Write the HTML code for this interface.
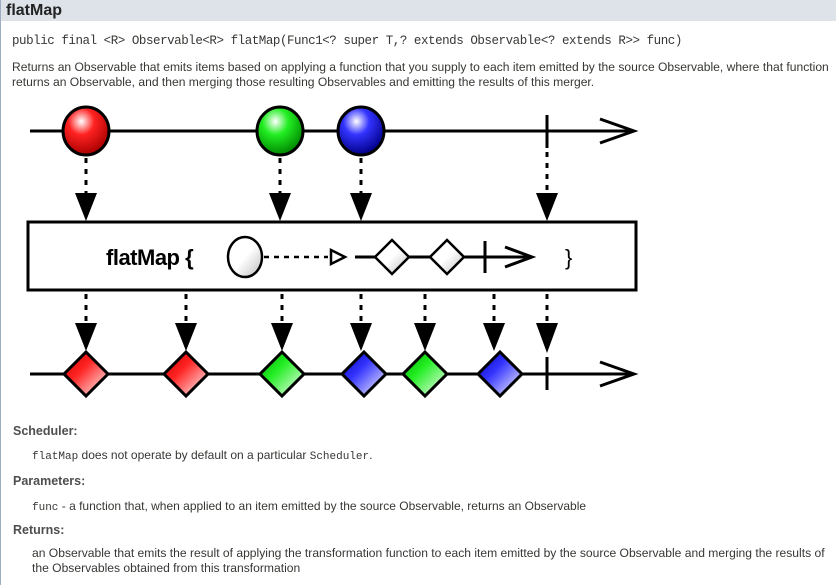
<!DOCTYPE html>
<html><head><meta charset="utf-8"><style>
body{margin:0;width:836px;height:585px;background:#fff;position:relative;overflow:hidden;font-family:"Liberation Sans",Arial,sans-serif;color:#353833;}
.hdr{position:absolute;left:0;top:0;width:836px;height:21px;background:#dee3e9;border-left:1px solid #9eadc0;}
.hdr b{position:absolute;left:5px;top:0px;font-size:16px;line-height:21px;color:#222;}
.lb{position:absolute;left:0;top:21px;width:1px;height:564px;background:#9eadc0;}
.t{position:absolute;white-space:nowrap;font-size:12px;}
.m{font-family:"Liberation Mono",monospace;}
.h{font-weight:bold;font-size:12.5px;color:#4e4e4e;}
.d{font-size:12.1px;}
</style></head><body>
<div class="hdr"><b>flatMap</b></div><div class="lb"></div>
<div class="t m" style="left:12px;top:34px;font-size:12.5px;letter-spacing:-0.45px">public final &lt;R&gt; Observable&lt;R&gt; flatMap(Func1&lt;? super T,? extends Observable&lt;? extends R&gt;&gt; func)</div>
<div class="t d" style="left:12px;top:60px">Returns an Observable that emits items based on applying a function that you supply to each item emitted by the source Observable, where that function</div>
<div class="t d" style="left:12px;top:75px">returns an Observable, and then merging those resulting Observables and emitting the results of this merger.</div>
<svg style="position:absolute;left:0;top:0" width="836" height="400">
<defs>
<radialGradient id="r" cx="0.4" cy="0.3" r="0.7"><stop offset="0" stop-color="#fff"/><stop offset="0.4" stop-color="#f22"/><stop offset="1" stop-color="#a00"/></radialGradient>
<radialGradient id="g" cx="0.4" cy="0.3" r="0.7"><stop offset="0" stop-color="#fff"/><stop offset="0.4" stop-color="#2e2"/><stop offset="1" stop-color="#080"/></radialGradient>
<radialGradient id="b" cx="0.4" cy="0.3" r="0.7"><stop offset="0" stop-color="#fff"/><stop offset="0.4" stop-color="#33f"/><stop offset="1" stop-color="#008"/></radialGradient>
<linearGradient id="w" x1="0" y1="0" x2="1" y2="1"><stop offset="0" stop-color="#fff"/><stop offset="0.5" stop-color="#fff"/><stop offset="1" stop-color="#bbb"/></linearGradient>
<linearGradient id="rd" x1="1" y1="1" x2="0" y2="0"><stop offset="0" stop-color="#fff"/><stop offset="0.6" stop-color="#f22"/><stop offset="1" stop-color="#c00"/></linearGradient>
<linearGradient id="gd" x1="1" y1="1" x2="0" y2="0"><stop offset="0" stop-color="#fff"/><stop offset="0.6" stop-color="#2e2"/><stop offset="1" stop-color="#0a0"/></linearGradient>
<linearGradient id="bd" x1="1" y1="1" x2="0" y2="0"><stop offset="0" stop-color="#fff"/><stop offset="0.6" stop-color="#33f"/><stop offset="1" stop-color="#00a"/></linearGradient>
</defs>
<g stroke="#000" stroke-width="3" fill="none">
<line x1="30" y1="131" x2="634" y2="131"/><polyline points="600,119 634,131 600,143"/>
<line x1="547" y1="115" x2="547" y2="148"/>
<line x1="30" y1="374" x2="634" y2="374"/><polyline points="600,362 634,374 600,386"/>
<line x1="547" y1="357" x2="547" y2="390"/>
<g stroke-dasharray="5,6">
<line x1="86" y1="158" x2="86" y2="194"/><line x1="280" y1="158" x2="280" y2="194"/><line x1="361" y1="158" x2="361" y2="194"/><line x1="547" y1="152" x2="547" y2="194"/>
<line x1="86" y1="294" x2="86" y2="325"/><line x1="186" y1="294" x2="186" y2="325"/><line x1="282" y1="294" x2="282" y2="325"/><line x1="361" y1="294" x2="361" y2="325"/><line x1="425" y1="294" x2="425" y2="325"/><line x1="494" y1="294" x2="494" y2="325"/><line x1="547" y1="294" x2="547" y2="325"/>
</g>
<rect x="28" y="222" width="608" height="68" fill="#fff"/>
<line x1="264" y1="257" x2="328" y2="257" stroke-dasharray="5,5" stroke-width="2.5"/>
<line x1="355" y1="257" x2="532" y2="257"/><polyline points="505,247 532,257 505,267"/><line x1="485" y1="241" x2="485" y2="273"/>
<polygon points="331,250 345,257 331,264" fill="#fff" stroke-width="2.5"/>
</g>
<g fill="#000">
<polygon points="75,193 97,193 86,221"/><polygon points="269,193 291,193 280,221"/><polygon points="350,193 372,193 361,221"/><polygon points="536,193 558,193 547,221"/>
<polygon points="75,323 97,323 86,351"/><polygon points="175,323 197,323 186,351"/><polygon points="271,323 293,323 282,351"/><polygon points="350,323 372,323 361,351"/><polygon points="414,323 436,323 425,351"/><polygon points="483,323 505,323 494,351"/><polygon points="536,323 558,323 547,353"/>
</g>
<g stroke="#000" stroke-width="3">
<ellipse cx="86" cy="131" rx="23" ry="24" fill="url(#r)"/>
<ellipse cx="280" cy="131" rx="23" ry="24" fill="url(#g)"/>
<ellipse cx="361" cy="131" rx="23" ry="24" fill="url(#b)"/>
<ellipse cx="245" cy="257" rx="17" ry="20" fill="url(#w)" stroke-width="2.5"/>
<polygon points="392,240 409,257 392,274 375,257" fill="url(#w)" stroke-width="2.5"/>
<polygon points="447,240 464,257 447,274 430,257" fill="url(#w)" stroke-width="2.5"/>
<polygon points="86,352 108,374 86,396 64,374" fill="url(#rd)"/>
<polygon points="186,352 208,374 186,396 164,374" fill="url(#rd)"/>
<polygon points="282,352 304,374 282,396 260,374" fill="url(#gd)"/>
<polygon points="364,352 386,374 364,396 342,374" fill="url(#bd)"/>
<polygon points="425,352 447,374 425,396 403,374" fill="url(#gd)"/>
<polygon points="500,352 522,374 500,396 478,374" fill="url(#bd)"/>
</g>
<text x="106" y="265" font-family="Liberation Sans,sans-serif" font-weight="bold" font-size="22" letter-spacing="-0.5">flatMap {</text>
<text x="565" y="265" font-family="Liberation Sans,sans-serif" font-size="22">}</text>
</svg>
<div class="t h" style="left:13px;top:424px">Scheduler:</div>
<div class="t" style="left:32px;top:448px"><span class="m" style="font-size:11px">flatMap</span> does not operate by default on a particular <span class="m" style="font-size:11px">Scheduler</span>.</div>
<div class="t h" style="left:13px;top:474px">Parameters:</div>
<div class="t" style="left:32px;top:499px"><span class="m" style="font-size:11px">func</span> - a function that, when applied to an item emitted by the source Observable, returns an Observable</div>
<div class="t h" style="left:13px;top:523px">Returns:</div>
<div class="t d" style="left:32px;top:546px">an Observable that emits the result of applying the transformation function to each item emitted by the source Observable and merging the results of</div>
<div class="t d" style="left:32px;top:561px">the Observables obtained from this transformation</div>
</body></html>
